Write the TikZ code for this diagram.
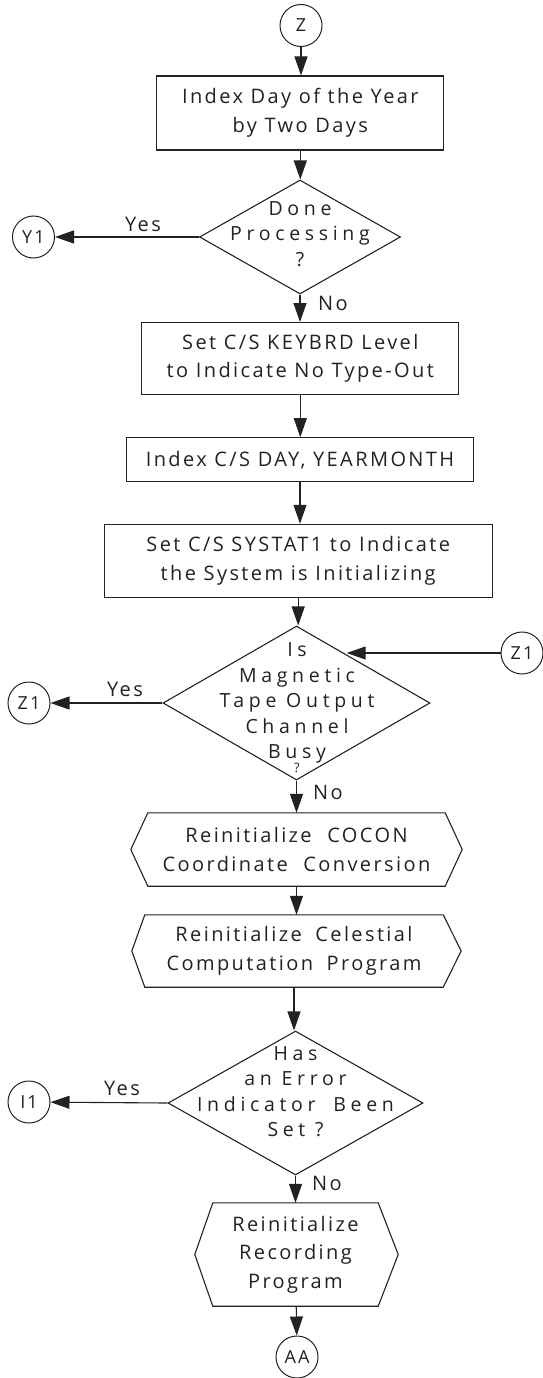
\documentclass[tikz,border=0pt]{standalone}
\usepackage{fontspec}
\setmainfont{Open Sans}[LetterSpace=12]
\newfontfamily\diafont{Open Sans}[LetterSpace=24]
\usetikzlibrary{shapes.geometric,arrows.meta,calc}
\definecolor{ink}{HTML}{222222}
\newcommand{\fmain}{\fontsize{20}{28.5}\selectfont}
\newcommand{\fdia}{\diafont\fontsize{19.5}{25.5}\selectfont}
\newcommand{\fcirc}{\fontsize{18}{20}\selectfont}
\begin{document}
\begin{tikzpicture}[x=1pt,y=-1pt,
  every node/.style={text=ink},
  stepbox/.style={draw=ink,line width=1.1pt,rectangle,inner sep=0pt,align=center,font=\fmain},
  conn/.style={draw=ink,circle,line width=1pt,minimum size=42pt,inner sep=0pt,font=\fcirc},
  dia/.style={draw=ink,diamond,inner sep=0pt,line width=1.1pt},
  diatext/.style={align=center,inner sep=0pt,font=\fdia},
  hexn/.style={inner sep=0pt,align=center,font=\fmain},
  hexline/.style={draw=ink,line width=1.1pt,line join=miter},
  arr/.style={draw=ink,line width=1.1pt,-{Triangle[length=19pt,width=13pt]}},
  lbl/.style={inner sep=0pt,font=\fmain}]
\useasboundingbox (0,0) rectangle (542,1378);

% nodes
\node[conn] (z) at (301,25.5) {Z};
\node[stepbox,minimum width=287pt,minimum height=74pt] (b1) at (300.3,113) {Index Day of the Year\\by Two Days};
\node[dia,minimum width=201pt,minimum height=114pt] (d1) at (300,237) {};
\node[diatext] (d1t) at (300,234) {Done\\Processing\\?};
\node[conn] (y1) at (33.5,237) {Y1};
\node[stepbox,minimum width=317pt,minimum height=71.5pt] (b2) at (300.3,358.3) {Set C/S KEYBRD Level\\to Indicate No Type-Out};
\node[stepbox,minimum width=347pt,minimum height=44pt] (b3) at (300,459.7) {Index C/S DAY, YEARMONTH};
\node[stepbox,minimum width=388pt,minimum height=73.4pt] (b4) at (298.2,561) {Set C/S SYSTAT1 to Indicate\\the System is Initializing};
\node[dia,minimum width=267pt,minimum height=154pt] (d2) at (296.5,703) {};
\node[diatext] (d2t) at (297,703) {Is\\Magnetic\\Tape Output\\Channel\\Busy};
\node[inner sep=0pt,font=\fontsize{13}{13}\selectfont] (d2q) at (297,768) {?};
\node[conn] (z1l) at (29,703) {Z1};
\node[conn] (z1r) at (522,653) {Z1};
\node[hexn,minimum width=297pt,minimum height=73pt] (h1) at (296.5,849.5) {Reinitialize\hspace{8pt} COCON\\Coordinate\hspace{8pt} Conversion};
\node[hexn,minimum width=298pt,minimum height=72pt] (h2) at (294,951) {Reinitialize\hspace{6pt} Celestial\\Computation\hspace{6pt} Program};
\node[dia,minimum width=255pt,minimum height=144pt] (d3) at (295.5,1103) {};
\node[diatext] (d3t) at (295.5,1091.5) {Has\\an Error\\Indicator\hspace{8pt} Been\\Set ?};
\node[conn] (i1) at (29,1102) {I1};
\node[hexn,minimum width=165pt,minimum height=103pt] (h3) at (295.5,1254.5) {Reinitialize\\Recording\\Program};
\node[conn] (aa) at (297,1357) {AA};

% hexagon outlines
\draw[hexline] (h1.north west) -- (h1.north east) -- ($(h1.east)+(17,0)$) -- (h1.south east) -- (h1.south west) -- ($(h1.west)+(-17,0)$) -- cycle;
\draw[hexline] (h2.north west) -- (h2.north east) -- ($(h2.east)+(18,0)$) -- (h2.south east) -- (h2.south west) -- ($(h2.west)+(-13,0)$) -- cycle;
\draw[hexline] (h3.north west) -- (h3.north east) -- ($(h3.east)+(20,0)$) -- (h3.south east) -- (h3.south west) -- ($(h3.west)+(-18,0)$) -- cycle;

% labels
\node[lbl] (yes1) at (143,224) {Yes};
\node[lbl] (no1) at (333,303) {No};
\node[lbl] (yes2) at (125,689) {Yes};
\node[lbl] (no2) at (328,792) {No};
\node[lbl] (yes3) at (122,1088) {Yes};
\node[lbl] (no3) at (327,1183) {No};

% connectors
\draw[arr] (z) -- (z |- b1.north);
\draw[arr] (b1) -- (b1 |- d1.north);
\draw[arr] (d1.west) -- (y1);
\draw[arr] (d1.south) -- (d1.south |- b2.north);
\draw[arr] (b2) -- (b2 |- b3.north);
\draw[arr] (b3) -- (b3 |- b4.north);
\draw[arr] (b4) -- (b4 |- d2.north);
\draw[arr] (d2.west) -- (z1l);
\draw[arr] (z1r) -- (z1r -| d2.44);
\draw[arr] (d2.south) -- (d2.south |- h1.north);
\draw[arr] (h1) -- (h1 |- h2.north);
\draw[arr] (h2) -- (h2 |- d3.north);
\draw[arr] (d3.west) -- (i1);
\draw[arr] (d3.south) -- (d3.south |- h3.north);
\draw[arr] (h3) -- (aa);
\end{tikzpicture}
\end{document}
